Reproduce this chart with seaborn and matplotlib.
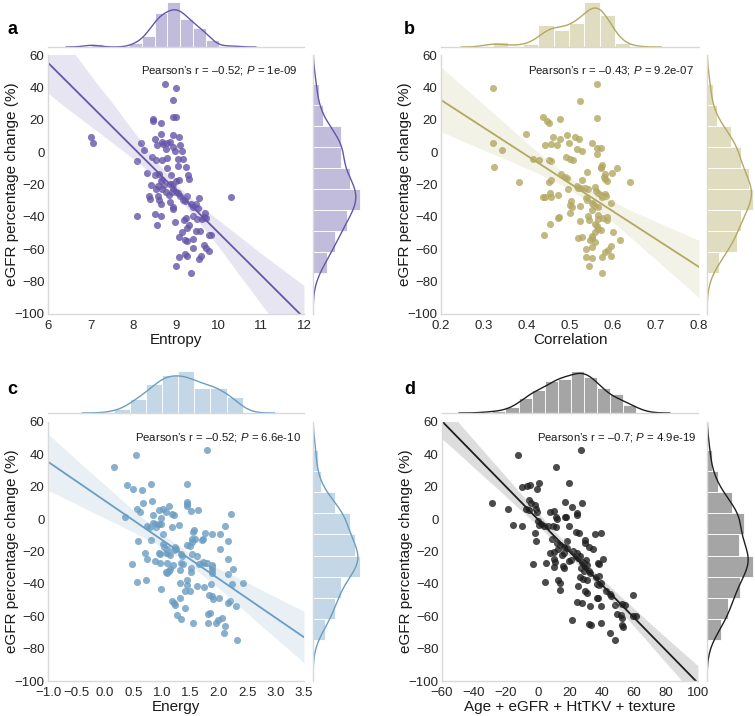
import matplotlib.pyplot as plt
import seaborn as sns

# --- values (one point per patient) ---
entropy = [7.0, 7.06, 8.75, 9.0, 8.93, 8.92, 9.0, 8.47, 8.45, 8.65,
           8.92, 9.06, 8.64, 8.5, 8.17, 8.68, 8.7, 8.8, 8.87, 8.55,
           8.92, 9.1, 8.25, 8.77, 8.97, 9.14, 8.09, 8.43, 8.52, 8.67,
           8.8, 9.04, 9.16, 8.8, 9.05, 9.23, 8.32, 8.5, 8.61, 8.88,
           9.29, 9.3, 8.68, 8.64, 8.99, 9.07, 8.94, 8.57, 8.73, 8.86,
           8.92, 8.42, 8.52, 8.9, 9.01, 9.09, 8.68, 8.77, 8.36, 8.38,
           8.57, 8.6, 8.84, 9.05, 9.26, 9.54, 10.3, 9.16, 9.22, 8.86,
           8.93, 8.94, 9.35, 9.4, 9.48, 9.52, 8.64, 8.5, 8.66, 8.09,
           9.39, 9.5, 9.62, 9.67, 9.65, 9.7, 9.23, 9.18, 8.98, 8.56,
           9.31, 9.15, 9.48, 9.56, 9.26, 9.78, 9.82, 9.06, 9.4, 9.21,
           9.25, 9.65, 9.39, 9.7, 9.78, 9.06, 9.2, 9.25, 9.59, 9.54,
           8.99, 9.36]
egfr_a = [9.6, 5.5, 42.3, 39.4, 32.2, 21.5, 21.5, 20.7, 19.1, 18.3,
          10.8, 9.6, 11.0, 8.2, 5.5, 6.1, 5.0, 5.5, 6.0, 4.3,
          3.4, 4.5, 1.2, 1.8, 0.8, 1.0, -5.4, -2.9, -5.0, -4.8,
          -3.5, -4.4, -4.4, -9.5, -8.3, -8.9, -13.0, -14.0, -13.6, -14.0,
          -14.4, -16.5, -17.0, -18.0, -17.7, -17.0, -19.6, -20.8, -20.2, -19.8,
          -22.5, -20.4, -22.5, -24.9, -24.9, -26.8, -22.5, -24.7, -27.0, -28.8,
          -27.4, -29.5, -26.6, -25.3, -27.4, -28.2, -27.8, -29.5, -30.5, -30.7,
          -34.0, -35.0, -32.3, -33.8, -32.3, -34.4, -31.9, -38.1, -39.3, -39.5,
          -39.7, -41.4, -41.2, -37.7, -40.0, -41.0, -40.6, -42.2, -43.4, -45.3,
          -44.9, -49.4, -48.6, -48.6, -47.0, -51.1, -51.3, -52.7, -53.7, -54.3,
          -54.6, -57.6, -59.1, -59.5, -61.3, -64.8, -63.2, -64.4, -64.0, -66.0,
          -70.6, -74.7]

correlation = [0.320, 0.322, 0.341, 0.324, 0.382, 0.397, 0.415, 0.428, 0.437, 0.447,
               0.452, 0.476, 0.46, 0.443, 0.456, 0.47, 0.452, 0.456, 0.476, 0.493,
               0.512, 0.497, 0.491, 0.5, 0.506, 0.52, 0.517, 0.527, 0.55, 0.563,
               0.572, 0.562, 0.523, 0.563, 0.563, 0.451, 0.456, 0.478, 0.488, 0.494,
               0.495, 0.454, 0.456, 0.437, 0.441, 0.472, 0.475, 0.472, 0.453, 0.439,
               0.5, 0.504, 0.5, 0.503, 0.524, 0.528, 0.526, 0.539, 0.517, 0.519,
               0.535, 0.542, 0.558, 0.561, 0.537, 0.54, 0.55, 0.554, 0.558, 0.565,
               0.573, 0.575, 0.581, 0.584, 0.595, 0.565, 0.552, 0.541, 0.545, 0.564,
               0.566, 0.523, 0.577, 0.586, 0.586, 0.558, 0.562, 0.557, 0.565, 0.573,
               0.6, 0.616, 0.552, 0.551, 0.518, 0.527, 0.547, 0.557, 0.595, 0.538,
               0.55, 0.581, 0.589, 0.596, 0.538, 0.55, 0.575, 0.544, 0.575, 0.571,
               0.575, 0.572, 0.581, 0.578, 0.581, 0.609, 0.598, 0.64, 0.585]
egfr_b = [39.4, 5.9, 1.4, -9.3, -18.6, 11.3, -4.2, -4.6, 21.5, 19.1,
          17.8, 20.5, 9.6, 4.1, 5.1, 4.3, -4.8, -5.4, 7.8, 10.8,
          9.6, 5.5, -2.9, -4.0, -4.8, 8.0, 2.0, 0.4, 5.5, 2.8,
          2.8, -1.3, 31.8, 42.3, 21.3, -18.6, -17.1, -13.8, -15.3, -16.1,
          -22.9, -25.3, -28.0, -28.0, -27.8, -26.4, -40.0, -41.0, -44.3, -51.0,
          -32.5, -33.6, -37.9, -30.3, -33.0, -17.1, -22.3, -12.0, -21.2, -22.3,
          -22.3, -22.5, -21.7, -24.1, -28.4, -29.7, -31.5, -31.9, -33.0, -25.3,
          -26.4, -27.8, -25.8, -27.4, -31.5, -33.8, -36.0, -39.3, -41.8, -38.9,
          -41.2, -42.4, -40.6, -40.2, -41.8, -44.3, -45.9, -49.6, -47.4, -48.4,
          -49.6, -54.1, -52.0, -53.3, -53.3, -52.5, -54.1, -55.8, -57.8, -59.9,
          -58.7, -61.5, -60.7, -64.0, -65.0, -65.2, -65.0, -70.4, -74.7, -8.9,
          -7.9, -9.9, -13.6, -15.1, -16.5, -9.5, -13.2, -18.6, -18.1]

energy = [0.162, 0.555, 1.79, 0.397, 0.502, 0.655, 0.819, 1.45, 1.44, 1.44,
          1.44, 0.825, 0.678, 1.12, 0.943, 1.02, 1.07, 0.567, 0.613, 1.18,
          1.21, 0.84, 1.52, 1.64, 2.22, 0.36, 0.995, 0.883, 0.848, 0.948,
          0.737, 0.79, 0.907, 0.984, 1.18, 1.31, 2.12, 1.55, 1.57, 1.76,
          1.88, 2.03, 0.59, 0.813, 1.02, 1.02, 1.04, 1.09, 1.23, 1.25,
          1.22, 1.44, 1.49, 1.54, 1.54, 1.58, 1.7, 1.73, 2.16, 2.02,
          0.702, 0.943, 0.966, 1.07, 1.11, 1.15, 1.33, 1.36, 1.54, 1.62,
          0.749, 0.485, 0.883, 0.966, 1.1, 1.2, 1.34, 1.37, 1.73, 1.75,
          1.8, 1.65, 2.17, 1.88, 1.89, 1.51, 1.52, 1.15, 1.13, 1.1,
          1.32, 1.88, 1.89, 2.17, 2.26, 1.07, 0.567, 0.731, 1.44, 1.45,
          1.32, 1.62, 1.74, 1.87, 2.24, 2.42, 0.995, 1.4, 1.49, 1.18,
          1.21, 1.24, 1.32, 1.83, 1.88, 1.9, 2.01, 2.17, 2.2, 2.3,
          1.4, 1.27, 1.34, 1.55, 1.82, 1.85, 1.81, 1.95, 1.99, 2.05,
          2.11, 2.09, 2.32]
egfr_c = [32.2, 39.6, 42.7, 20.9, 18.8, 18.0, 21.7, 21.7, 10.8, 9.1,
          7.9, 11.4, 9.8, 7.9, 5.8, 6.0, 4.4, 6.0, 4.4, 3.0,
          2.3, 2.8, 5.2, 5.8, 3.0, 1.5, 0.5, -3.2, -2.2, -3.2,
          -4.3, -4.9, -5.1, -3.2, -4.7, -3.8, -4.3, -7.7, -6.9, -8.8,
          -9.2, -9.4, -13.5, -12.7, -9.0, -15.6, -17.0, -18.3, -17.0, -18.3,
          -19.3, -15.8, -16.6, -12.5, -13.9, -12.0, -13.1, -12.5, -13.7, -18.5,
          -20.7, -20.7, -21.8, -20.7, -21.1, -22.4, -21.8, -22.8, -21.6, -22.8,
          -24.8, -27.9, -26.1, -26.9, -26.9, -28.3, -26.9, -27.9, -26.3, -27.3,
          -27.3, -27.5, -24.8, -28.5, -29.6, -30.4, -32.5, -31.0, -32.0, -33.0,
          -31.6, -31.4, -33.0, -33.7, -31.0, -32.7, -38.6, -37.8, -37.8, -40.9,
          -39.5, -41.3, -41.9, -40.3, -40.1, -39.7, -43.2, -44.4, -44.2, -50.6,
          -52.0, -53.1, -48.5, -46.7, -47.5, -49.1, -48.5, -51.6, -50.8, -53.7,
          -54.7, -59.4, -61.5, -64.4, -58.8, -58.0, -64.4, -64.2, -62.5, -61.3,
          -66.0, -70.1, -74.7]

combined = [-12.5, 26.7, 11.0, -28.5, -18.8, -15.4, -10.0, -10.0, -7.1, -4.8,
            0.4, -0.4, 19.4, -5.8, -4.2, -7.3, -5.8, -2.1, -1.0, -0.8,
            -1.9, -1.3, 0.0, 1.9, 3.5, 0.6, 7.3, 9.8, 11.3, 11.7,
            16.7, 17.5, 16.9, 21.0, 24.6, 24.6, 27.3, 6.3, 9.2, 11.5,
            19.2, 23.8, 25.4, 8.5, 11.7, 13.8, 12.5, 17.9, 16.3, 18.3,
            16.0, 14.8, 10.0, 10.0, 10.6, 7.7, 22.1, 24.6, 29.6, 29.4,
            31.7, 35.6, 39.2, 34.4, 19.6, 20.8, 24.0, 25.0, 26.5, 27.5,
            28.8, 29.8, 30.8, 26.7, 29.4, 31.7, 32.7, 28.5, 37.5, 38.3,
            40.6, -3.1, 5.2, 10.0, 16.3, 15.6, 4.6, 12.5, 13.5, 13.9,
            26.3, 28.3, 30.8, 36.5, 38.3, 37.1, 38.3, 39.6, 25.0, 29.6,
            30.6, 42.5, 36.7, 37.5, 45.0, 45.8, 59.4, 24.4, 27.3, 48.3,
            52.5, 54.2, 32.7, 39.2, 21.5, 32.1, 32.9, 39.6, 49.2, 52.1,
            52.7, 59.4, 61.5, 52.3, 53.1, 45.2, 48.3]
egfr_d = [39.9, 43.0, 32.5, 10.1, 6.0, -3.8, -4.2, 20.0, 20.7, 21.3,
          22.1, 18.6, 22.1, 12.0, 9.7, 6.0, 5.6, 8.5, 6.2, 4.7,
          -8.7, -13.5, -1.1, -3.1, -4.2, -3.8, 4.5, 4.9, 1.4, 0.0,
          1.2, 1.2, 10.3, 7.2, 3.5, 2.5, 9.7, -4.2, -4.2, -4.8,
          -4.4, -7.7, -8.3, -12.4, -14.9, -16.2, -18.2, -13.7, -17.4, -17.6,
          -20.9, -22.4, -20.1, -24.9, -26.3, -20.7, -19.7, -20.7, -13.1, -14.7,
          -17.2, -9.1, -8.7, -18.2, -25.9, -25.5, -22.8, -23.8, -22.8, -26.3,
          -27.4, -25.3, -28.6, -30.0, -29.8, -32.1, -33.1, -32.1, -27.4, -28.0,
          -24.9, -28.0, -27.1, -29.8, -30.3, -29.0, -38.7, -37.9, -39.4, -43.5,
          -35.8, -36.9, -37.9, -35.6, -35.2, -39.8, -40.6, -39.4, -41.4, -44.7,
          -45.6, -44.1, -48.7, -48.7, -46.0, -47.6, -46.8, -51.0, -51.8, -52.8,
          -52.2, -53.2, -53.8, -53.8, -62.1, -64.8, -65.2, -64.0, -58.6, -59.0,
          -61.1, -60.0, -60.0, -65.2, -66.6, -70.4, -74.9]

stats = ["Pearson\u2019s r = \u20130.52; $P$ = 1e-09",
         "Pearson\u2019s r = \u20130.43; $P$ = 9.2e-07",
         "Pearson\u2019s r = \u20130.52; $P$ = 6.6e-10",
         "Pearson\u2019s r = \u20130.7; $P$ = 4.9e-19"]

# --- style ---
sns.set_style("white")
plt.rcParams["font.family"] = ["Liberation Sans", "DejaVu Sans"]
plt.rcParams["mathtext.fontset"] = "custom"
plt.rcParams["mathtext.rm"] = "Liberation Sans"
plt.rcParams["mathtext.it"] = "Liberation Sans:italic"
plt.rcParams["axes.edgecolor"] = "0.85"
plt.rcParams["axes.linewidth"] = 1.0
plt.rcParams["text.color"] = "0.1"
plt.rcParams["axes.labelcolor"] = "0.1"
plt.rcParams["xtick.color"] = "0.15"
plt.rcParams["ytick.color"] = "0.15"

W, H = 755, 716


def box(l, t, r, b):
    # pixel box -> figure fraction
    return [l / W, 1 - b / H, (r - l) / W, (b - t) / H]


fig = plt.figure(figsize=(7.55, 7.16), dpi=100)


def panel(x, y, color, main, top, right, xlim, xticks, xlabel, letter, letter_xy,
          stat, stat_x, xbins):
    ax = fig.add_axes(box(*main))
    ax.set_xlim(xlim)
    ax.set_ylim(-100, 60)
    sns.regplot(x=x, y=y, ax=ax, color=color, truncate=False, seed=0,
                scatter_kws={"s": 26, "alpha": 0.8, "linewidths": 0},
                line_kws={"lw": 1.3})
    ax.set_xlim(xlim)
    ax.set_ylim(-100, 60)
    ax.set_xticks(xticks)
    ax.set_yticks(range(-100, 61, 20))
    ax.tick_params(labelsize=9.5, length=0)
    ax.tick_params(axis="x", pad=4)
    ax.tick_params(axis="y", pad=2.5)
    ax.set_xlabel(xlabel, fontsize=11, labelpad=1)
    ax.set_ylabel("eGFR percentage change (%)", fontsize=11)
    # y label sits about 18 px from the panel edge, as in the reference
    ax.yaxis.set_label_coords(-29 / (main[2] - main[0]), 0.5)
    sns.despine(ax=ax)
    ax.text(stat_x, 0.94, stat, transform=ax.transAxes, ha="right", va="center",
            fontsize=8.2)

    # marginal on top
    axt = fig.add_axes(box(*top))
    sns.histplot(x=x, ax=axt, bins=xbins, stat="density", color=color,
                 alpha=0.4, edgecolor="white", linewidth=0.6)
    sns.kdeplot(x=x, ax=axt, color=color, lw=1, cut=3)
    axt.set_xlim(xlim)
    axt.set_ylim(bottom=0)
    axt.set(xticks=[], yticks=[], xlabel="", ylabel="")
    sns.despine(ax=axt, left=True)

    # marginal on the right
    axr = fig.add_axes(box(*right))
    sns.histplot(y=y, ax=axr, bins=9, stat="density", color=color,
                 alpha=0.4, edgecolor="white", linewidth=0.6)
    sns.kdeplot(y=y, ax=axr, color=color, lw=1, cut=3)
    axr.set_ylim(-100, 60)
    axr.set_xlim(left=0)
    axr.set(xticks=[], yticks=[], xlabel="", ylabel="")
    sns.despine(ax=axr, bottom=True)

    fig.text(letter_xy[0] / W, 1 - letter_xy[1] / H, letter, fontsize=13,
             fontweight="bold", ha="left", va="center", color="black")


panel(entropy, egfr_a, "#6655A8", (48, 55, 304, 314), (48, 0, 304, 47),
      (313, 55, 362, 314), (6, 12), range(6, 13), "Entropy", "a", (7, 29),
      stats[0], 0.975, 11)
panel(correlation, egfr_b, "#B3A862", (441, 55, 699, 314), (441, 0, 699, 47),
      (707, 55, 755, 314), (0.2, 0.8), [0.2, 0.3, 0.4, 0.5, 0.6, 0.7, 0.8],
      "Correlation", "b", (404, 29), stats[1], 0.98, 9)
panel(energy, egfr_c, "#6A9DC2", (48, 422, 304, 681), (48, 369, 304, 413),
      (313, 422, 362, 681), (-1.0, 3.5), [-1.0, -0.5, 0.0, 0.5, 1.0, 1.5, 2.0, 2.5, 3.0, 3.5],
      "Energy", "c", (7, 389), stats[2], 0.99, 8)
panel(combined, egfr_d, "#1E1E1E", (442, 422, 698, 681), (442, 369, 698, 413),
      (707, 422, 755, 681), (-60, 100), range(-60, 101, 20),
      "Age + eGFR + HtTKV + texture", "d", (404, 390), stats[3], 0.995, 11)

fig.savefig("out.png", dpi=100)
